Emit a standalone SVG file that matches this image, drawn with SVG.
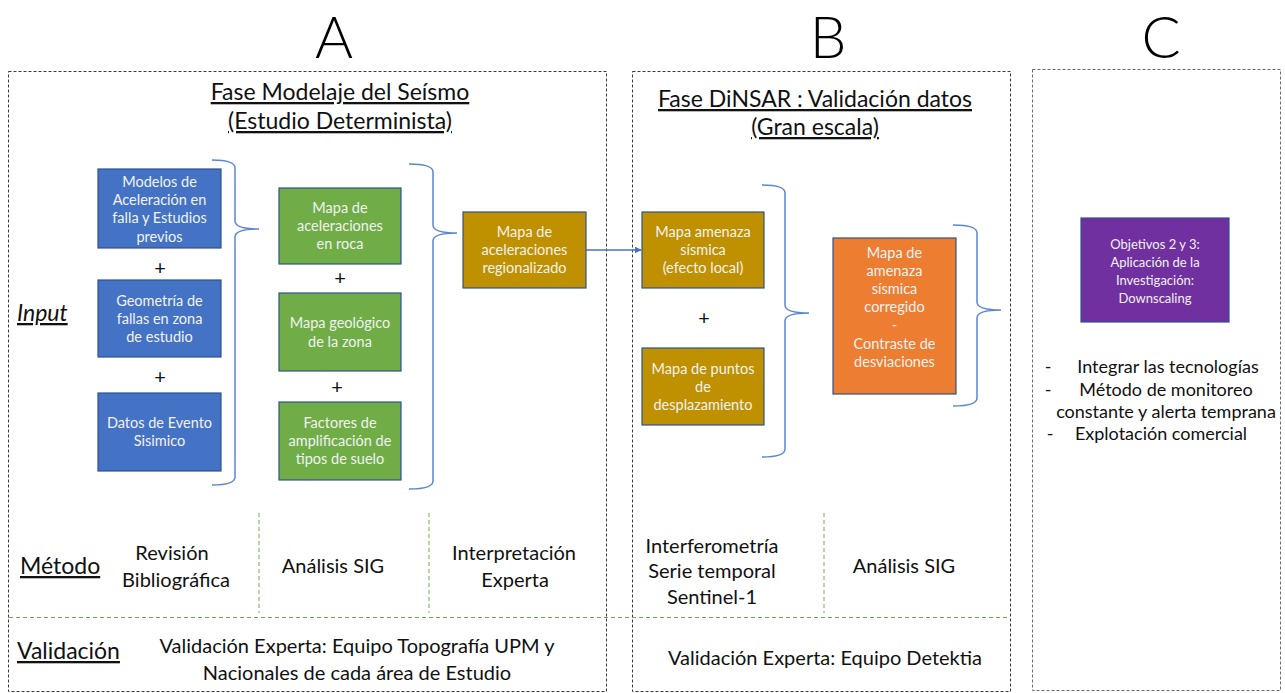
<svg xmlns="http://www.w3.org/2000/svg" width="1285" height="693" viewBox="0 0 1285 693">
<style>
.panel{fill:none;stroke:#3a3a3a;stroke-width:1;stroke-dasharray:3,2}
.panelc{fill:none;stroke:#6a6a6a;stroke-width:1;stroke-dasharray:3,2}
.box{stroke:#2F528F;stroke-width:1.2}
.blue{fill:#4472C4}.green{fill:#70AD47}.mustard{fill:#BF9000}.orange{fill:#ED7D31}.purple{fill:#7030A0}
.bt{font-family:Lato,"Liberation Sans",sans-serif;font-size:14.5px;fill:#f2f2f2;text-anchor:middle}
.pt{font-family:Lato,"Liberation Sans",sans-serif;font-size:13px;fill:#f2f2f2;text-anchor:middle}
.t{font-family:Lato,"Liberation Sans",sans-serif;fill:#111;text-anchor:middle}
.ts{font-family:Lato,"Liberation Sans",sans-serif;fill:#111;text-anchor:start}
.big{font-family:Lato,"Liberation Sans",sans-serif;font-weight:300;font-size:58px;fill:#000;text-anchor:middle}
.brace{fill:none;stroke:#5B87D0;stroke-width:1.5}
.gd{stroke:#70AD47;stroke-width:1;stroke-dasharray:4,3;fill:none}
.plus{font-family:Lato,"Liberation Sans",sans-serif;font-size:20px;fill:#111;text-anchor:middle}
</style>
<defs>
<marker id="arr" viewBox="0 0 10 10" refX="9" refY="5" markerWidth="7" markerHeight="7" orient="auto" markerUnits="userSpaceOnUse">
<path d="M0,0 L10,5 L0,10 z" fill="#4472C4"/>
</marker>
</defs>
<rect width="1285" height="693" fill="#fff"/>

<g id="headers">
<text class="big" x="334" y="58">A</text>
<text class="big" x="828" y="58">B</text>
<text class="big" x="1161" y="58">C</text>
</g>

<g id="panels">
<rect class="panel" x="8.5" y="71.5" width="598" height="620"/>
<rect class="panel" x="632.5" y="71.5" width="378" height="620"/>
<rect class="panelc" x="1032.5" y="69.5" width="248" height="621"/>
</g>

<g id="titles">
<text class="t" x="340" y="100" font-size="23" text-decoration="underline">Fase Modelaje del Seísmo</text>
<text class="t" x="340" y="129" font-size="23" text-decoration="underline">(Estudio Determinista)</text>
<text class="t" x="815" y="107" font-size="23" text-decoration="underline">Fase DiNSAR : Validación datos</text>
<text class="t" x="815" y="135" font-size="23" text-decoration="underline">(Gran escala)</text>
</g>

<g id="row-labels">
<text class="ts" x="17" y="321" font-size="23" font-style="italic" text-decoration="underline">Input</text>
<text class="ts" x="20" y="574" font-size="23" text-decoration="underline">Método</text>
<text class="ts" x="17" y="659" font-size="23" text-decoration="underline">Validación</text>
</g>

<g id="connectors">
<path class="brace" d="M212,160 Q235,160 235,168 L235,221 Q235,229 259,229 Q235,229 235,237 L235,477 Q235,485 212,485"/>
<path class="brace" d="M409,164 Q433,164 433,172 L433,225 Q433,233 457,233 Q433,233 433,241 L433,481 Q433,489 409,489"/>
<path class="brace" d="M762,185 Q785,185 785,193 L785,305 Q785,313 809,313 Q785,313 785,321 L785,449 Q785,457 762,457"/>
<path class="brace" d="M953,225 Q977,225 977,233 L977,302 Q977,310 1001,310 Q977,310 977,318 L977,398 Q977,406 953,406"/>
<line x1="586" y1="250" x2="641" y2="250" stroke="#4472C4" stroke-width="1.5" marker-end="url(#arr)"/>
<line class="gd" x1="259" y1="513" x2="259" y2="613"/>
<line class="gd" x1="429" y1="513" x2="429" y2="613"/>
<line class="gd" x1="824" y1="513" x2="824" y2="613"/>
<line class="gd" x1="9" y1="617.5" x2="1009" y2="617.5"/>
</g>

<g id="plus-signs">
<text class="plus" x="160" y="275">+</text>
<text class="plus" x="160" y="384">+</text>
<text class="plus" x="340" y="285">+</text>
<text class="plus" x="337" y="394">+</text>
<text class="plus" x="704" y="325">+</text>
</g>

<g id="n-modelos">
<rect class="box blue" x="98" y="169" width="123" height="79"/>
<text class="bt" x="159.5" y="187">Modelos de</text>
<text class="bt" x="159.5" y="205">Aceleración en</text>
<text class="bt" x="159.5" y="223">falla y Estudios</text>
<text class="bt" x="159.5" y="242">previos</text>
</g>
<g id="n-geometria">
<rect class="box blue" x="98" y="280" width="123" height="77"/>
<text class="bt" x="159.5" y="306">Geometría de</text>
<text class="bt" x="159.5" y="324">fallas en zona</text>
<text class="bt" x="159.5" y="342">de estudio</text>
</g>
<g id="n-datos">
<rect class="box blue" x="98" y="393" width="123" height="78"/>
<text class="bt" x="159.5" y="428">Datos de Evento</text>
<text class="bt" x="159.5" y="446">Sisimico</text>
</g>

<g id="n-mapa-roca">
<rect class="box green" x="279" y="188" width="122" height="76"/>
<text class="bt" x="340" y="213">Mapa de</text>
<text class="bt" x="340" y="231">aceleraciones</text>
<text class="bt" x="340" y="249">en roca</text>
</g>
<g id="n-mapa-geologico">
<rect class="box green" x="279" y="293" width="122" height="78"/>
<text class="bt" x="340" y="328">Mapa geológico</text>
<text class="bt" x="340" y="347">de la zona</text>
</g>
<g id="n-factores">
<rect class="box green" x="279" y="402" width="122" height="78"/>
<text class="bt" x="340" y="428">Factores de</text>
<text class="bt" x="340" y="446">amplificación de</text>
<text class="bt" x="340" y="464">tipos de suelo</text>
</g>

<g id="n-regionalizado">
<rect class="box mustard" x="463" y="212" width="123" height="76"/>
<text class="bt" x="524.5" y="237">Mapa de</text>
<text class="bt" x="524.5" y="255">aceleraciones</text>
<text class="bt" x="524.5" y="273">regionalizado</text>
</g>

<g id="n-amenaza">
<rect class="box mustard" x="642" y="212" width="122" height="76"/>
<text class="bt" x="703" y="237">Mapa amenaza</text>
<text class="bt" x="703" y="255">sísmica</text>
<text class="bt" x="703" y="273">(efecto local)</text>
</g>
<g id="n-puntos">
<rect class="box mustard" x="642" y="348" width="122" height="77"/>
<text class="bt" x="703" y="374">Mapa de puntos</text>
<text class="bt" x="703" y="392">de</text>
<text class="bt" x="703" y="410">desplazamiento</text>
</g>

<g id="n-corregido">
<rect class="box orange" x="833" y="238" width="123" height="156"/>
<text class="bt" x="894.5" y="258">Mapa de</text>
<text class="bt" x="894.5" y="276">amenaza</text>
<text class="bt" x="894.5" y="294">sísmica</text>
<text class="bt" x="894.5" y="312">corregido</text>
<text class="bt" x="894.5" y="330">-</text>
<text class="bt" x="894.5" y="349">Contraste de</text>
<text class="bt" x="894.5" y="367">desviaciones</text>
</g>

<g id="n-objetivos">
<rect class="box purple" x="1081" y="218" width="148" height="104"/>
<text class="pt" x="1155" y="249">Objetivos 2 y 3:</text>
<text class="pt" x="1155" y="267">Aplicación de la</text>
<text class="pt" x="1155" y="285">Investigación:</text>
<text class="pt" x="1155" y="303">Downscaling</text>
</g>

<g id="c-list" class="t" font-size="18">
<text x="1048" y="373">-</text>
<text x="1168" y="373">Integrar las tecnologías</text>
<text x="1048" y="396">-</text>
<text x="1166" y="396">Método de monitoreo</text>
<text x="1166" y="418">constante y alerta temprana</text>
<text x="1050" y="440">-</text>
<text x="1161" y="440">Explotación comercial</text>
</g>

<g id="method-a" class="t" font-size="20">
<text x="172" y="560">Revisión</text>
<text x="176" y="587">Bibliográfica</text>
<text x="333" y="573">Análisis SIG</text>
<text x="514" y="560">Interpretación</text>
<text x="515" y="587">Experta</text>
</g>
<g id="method-b" class="t" font-size="20">
<text x="712" y="553">Interferometría</text>
<text x="712" y="578">Serie temporal</text>
<text x="712" y="604">Sentinel-1</text>
<text x="904" y="573">Análisis SIG</text>
</g>
<g id="validation" class="t" font-size="20">
<text x="357" y="653">Validación Experta: Equipo Topografía UPM y</text>
<text x="357" y="680">Nacionales de cada área de Estudio</text>
<text x="825" y="665">Validación Experta: Equipo Detektia</text>
</g>
</svg>
